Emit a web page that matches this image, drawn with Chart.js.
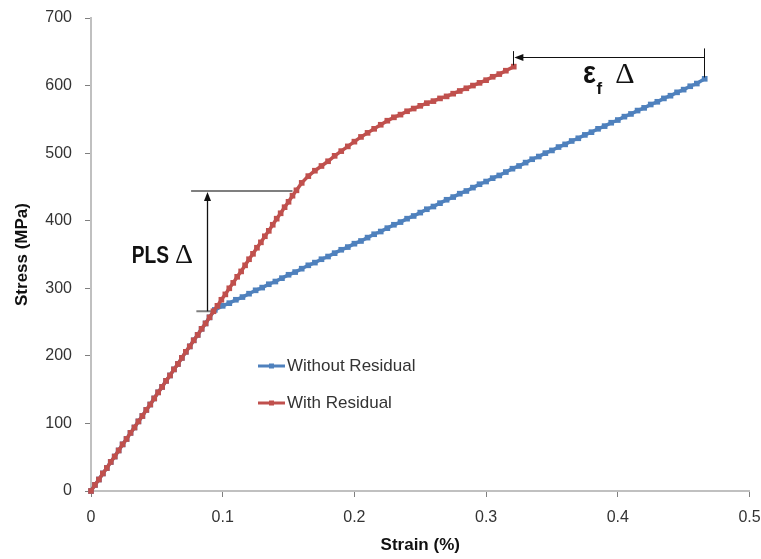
<!DOCTYPE html>
<html><head><meta charset="utf-8">
<script src="https://cdn.jsdelivr.net/npm/chart.js@4/dist/chart.umd.min.js"></script>
<style>html,body{margin:0;padding:0;background:#fff}#wrap{width:761px;height:559px;position:relative}</style>
</head><body><div id="wrap"><canvas id="c" width="761" height="559"></canvas></div>
<script>
// ---- data ----
const seriesNames = ['Without Residual', 'With Residual'];
const xTickLabels = ['0', '0.1', '0.2', '0.3', '0.4', '0.5'];
const yTickLabels = ['0', '100', '200', '300', '400', '500', '600', '700'];

const strainBlue = [0,0.003,0.006,0.009,0.012,0.015,0.018,0.021,0.024,0.027,0.03,0.033,0.036,0.039,0.042,0.045,0.048,0.051,0.054,0.057,0.06,0.063,0.066,0.069,0.072,0.075,0.078,0.081,0.084,0.087,0.09,0.094,
 0.1,0.105,0.11,0.115,0.12,0.125,0.13,0.135,0.14,0.145,0.15,0.155,0.16,0.165,0.17,0.175,0.18,0.185,0.19,0.195,0.2,0.205,0.21,0.215,0.22,0.225,0.23,0.235,0.24,0.245,0.25,0.255,0.26,0.265,0.27,0.275,0.28,0.285,0.29,0.295,0.3,0.305,0.31,0.315,0.32,0.325,0.33,0.335,0.34,0.345,0.35,0.355,0.36,0.365,0.37,0.375,0.38,0.385,0.39,0.395,0.4,0.405,0.41,0.415,0.42,0.425,0.43,0.435,0.44,0.445,0.45,0.455,0.46,0.466];
const stressBlue = [0,9,17,26,34,43,51,60,69,77,86,94,103,111,120,128,137,146,154,163,171,180,188,197,206,214,223,231,240,248,257,268,
 274,278,283,287,292,297,301,306,310,315,320,324,329,334,338,343,347,352,357,361,366,370,375,380,384,389,394,398,403,407,412,417,421,426,431,435,440,444,449,454,458,463,467,472,477,481,486,491,495,500,504,509,513,518,522,527,531,536,540,545,549,554,558,563,567,572,576,581,585,590,594,599,603,610];

const strainRed = [0,0.003,0.006,0.009,0.012,0.015,0.018,0.021,0.024,0.027,0.03,0.033,0.036,0.039,0.042,0.045,0.048,0.051,0.054,0.057,0.06,0.063,0.066,0.069,0.072,0.075,0.078,0.081,0.084,0.087,0.09,0.093,0.096,0.099,0.102,0.105,0.108,0.111,0.114,0.117,0.12,0.123,0.126,0.129,0.132,0.135,0.138,0.141,0.144,0.147,0.15,0.153,0.156,
 0.16,0.165,0.17,0.175,0.18,0.185,0.19,0.195,0.2,0.205,0.21,0.215,0.22,0.225,0.23,0.235,0.24,0.245,0.25,0.255,0.26,0.265,0.27,0.275,0.28,0.285,0.29,0.295,0.3,0.305,0.31,0.315,0.321];
const stressRed = [0,9,17,26,34,43,51,60,69,77,86,94,103,111,120,128,137,146,154,163,171,180,188,197,206,214,223,231,240,248,257,266,274,283,291,300,308,317,325,334,343,351,360,368,377,385,394,403,411,420,428,437,445,
 456,466,474,481,488,496,503,510,517,524,530,536,542,548,553,557,562,566,570,574,577,581,584,588,592,596,600,604,608,613,617,622,628];

// ---- annotation anchors (data units) ----
const plsMark = {x: 0.088, low: 266, high: 444, topFrom: 0.076, topTo: 0.153, lowFrom: 0.080, lowTo: 0.095};
const efMark = {y: 643, from: 0.3207, to: 0.4655, leftTickTop: 651, leftTickBot: 630, rightTickTop: 655, rightTickBot: 612};

const BLUE = '#4f81bd', RED = '#c0504d';
const toXY = (xs, ys) => xs.map((v, i) => ({x: v, y: ys[i]}));

function arrowHead(ctx, x, y, dir) {
  const L = 9, W = 3.5;
  ctx.beginPath();
  if (dir === 'up') { ctx.moveTo(x, y); ctx.lineTo(x - W, y + L); ctx.lineTo(x + W, y + L); }
  else { ctx.moveTo(x, y); ctx.lineTo(x + L, y - W); ctx.lineTo(x + L, y + W); }
  ctx.closePath(); ctx.fill();
}
function seg(ctx, x1, y1, x2, y2) { ctx.beginPath(); ctx.moveTo(x1, y1); ctx.lineTo(x2, y2); ctx.stroke(); }

const annoPlugin = {
  id: 'anno',
  beforeDatasetsDraw(chart) {
    const {ctx, scales: {x, y}} = chart;
    const px = v => x.getPixelForValue(v), py = v => y.getPixelForValue(v);
    ctx.save();
    ctx.strokeStyle = '#7f7f7f'; ctx.lineWidth = 2;
    seg(ctx, px(plsMark.topFrom), py(plsMark.high), px(plsMark.topTo), py(plsMark.high));
    seg(ctx, px(plsMark.lowFrom), py(plsMark.low), px(plsMark.lowTo), py(plsMark.low));
    ctx.restore();
  },
  afterDatasetsDraw(chart) {
    const {ctx, scales: {x, y}, chartArea: ca} = chart;
    const px = v => x.getPixelForValue(v), py = v => y.getPixelForValue(v);
    ctx.save();
    // PLS vertical arrow
    ctx.strokeStyle = '#111'; ctx.fillStyle = '#111'; ctx.lineWidth = 1.3;
    const ax = Math.round(px(plsMark.x)) + 0.5;
    seg(ctx, ax, py(plsMark.low), ax, py(plsMark.high) + 6);
    arrowHead(ctx, ax, py(plsMark.high) + 1, 'up');
    // eps_f arrow
    const ey = Math.round(py(efMark.y)) + 0.5;
    ctx.lineWidth = 1;
    seg(ctx, px(efMark.to), ey, px(efMark.from) + 6, ey);
    arrowHead(ctx, px(efMark.from) + 1, ey, 'left');
    seg(ctx, Math.round(px(efMark.from)) + 0.5, py(efMark.leftTickTop), Math.round(px(efMark.from)) + 0.5, py(efMark.leftTickBot));
    seg(ctx, Math.round(px(efMark.to)) + 0.5, py(efMark.rightTickTop), Math.round(px(efMark.to)) + 0.5, py(efMark.rightTickBot));

    // texts
    ctx.fillStyle = '#111';
    ctx.textBaseline = 'alphabetic'; ctx.textAlign = 'left';
    ctx.save();
    ctx.translate(px(0.0309), py(337));
    ctx.scale(0.8, 1);
    ctx.font = 'bold 24px "Liberation Sans"';
    ctx.fillText('PLS', 0, 0);
    ctx.restore();
    ctx.font = '28px "Liberation Serif"';
    ctx.fillText('\u0394', px(0.0638), py(337));

    ctx.save();
    ctx.translate(px(0.3736), py(603.6));
    ctx.scale(0.85, 1);
    ctx.font = 'bold 32px "Liberation Sans"';
    ctx.fillText('\u03B5', 0, 0);
    ctx.restore();
    ctx.font = 'bold 17px "Liberation Sans"';
    ctx.fillText('f', px(0.3838), py(588));
    ctx.font = '30px "Liberation Serif"';
    ctx.fillText('\u0394', px(0.398), py(603.6));

    // legend
    const items = [{name: seriesNames[0], c: BLUE}, {name: seriesNames[1], c: RED}];
    const lx = ca.left + 167, ly0 = ca.top + 348, gap = 37;
    items.forEach((it, i) => {
      const yy = ly0 + i * gap;
      ctx.strokeStyle = it.c; ctx.fillStyle = it.c; ctx.lineWidth = 3;
      seg(ctx, lx, yy, lx + 27, yy);
      ctx.fillRect(lx + 13.5 - 2.5, yy - 2.5, 5, 5);
      ctx.fillStyle = '#333';
      ctx.font = '17px "Liberation Sans"';
      ctx.textBaseline = 'middle';
      ctx.fillText(it.name, lx + 29, yy);
    });
    ctx.restore();
  }
};

const tickFont = {family: '"Liberation Sans"', size: 16};
const titleFont = {family: '"Liberation Sans"', size: 17, weight: 'bold'};

new Chart(document.getElementById('c'), {
  type: 'line',
  data: {
    datasets: [
      {label: seriesNames[1], data: toXY(strainRed, stressRed), borderColor: RED, backgroundColor: RED,
       pointStyle: 'rect', pointRadius: 4, pointBorderWidth: 0, borderWidth: 3.5, tension: 0, order: 0},
      {label: seriesNames[0], data: toXY(strainBlue, stressBlue), borderColor: BLUE, backgroundColor: BLUE,
       pointStyle: 'rect', pointRadius: 4, pointBorderWidth: 0, borderWidth: 3.5, tension: 0, order: 1}
    ]
  },
  options: {
    responsive: false, animation: false, clip: false,
    layout: {padding: {top: 18, right: 11.5, left: 0, bottom: 0}},
    plugins: {legend: {display: false}, tooltip: {enabled: false}},
    scales: {
      x: {
        type: 'linear', min: 0, max: 0.5,
        ticks: {stepSize: 0.1, callback: (v, i) => xTickLabels[i], color: '#333', font: tickFont, padding: 11, maxRotation: 0, autoSkip: false},
        grid: {drawOnChartArea: false, drawTicks: true, tickLength: 6, color: '#7f7f7f', lineWidth: 1},
        border: {color: '#c0c0c0', width: 2},
        title: {display: true, text: 'Strain (%)', color: '#111', font: titleFont, padding: {top: 0, bottom: 3}},
        afterFit: s => { s.height = 68; s.paddingLeft = 0; s.paddingRight = 0; }
      },
      y: {
        type: 'linear', min: 0, max: 700,
        ticks: {stepSize: 100, callback: (v, i) => yTickLabels[i], color: '#333', font: tickFont, padding: 13},
        grid: {drawOnChartArea: false, drawTicks: true, tickLength: 6, color: '#7f7f7f', lineWidth: 1},
        border: {color: '#c0c0c0', width: 2},
        title: {display: true, text: 'Stress (MPa)', color: '#111', font: titleFont, padding: {top: 12, bottom: 0}},
        afterFit: s => { s.width = 91; s.paddingTop = 0; s.paddingBottom = 0; }
      }
    }
  },
  plugins: [annoPlugin]
});
</script>
</body></html>
